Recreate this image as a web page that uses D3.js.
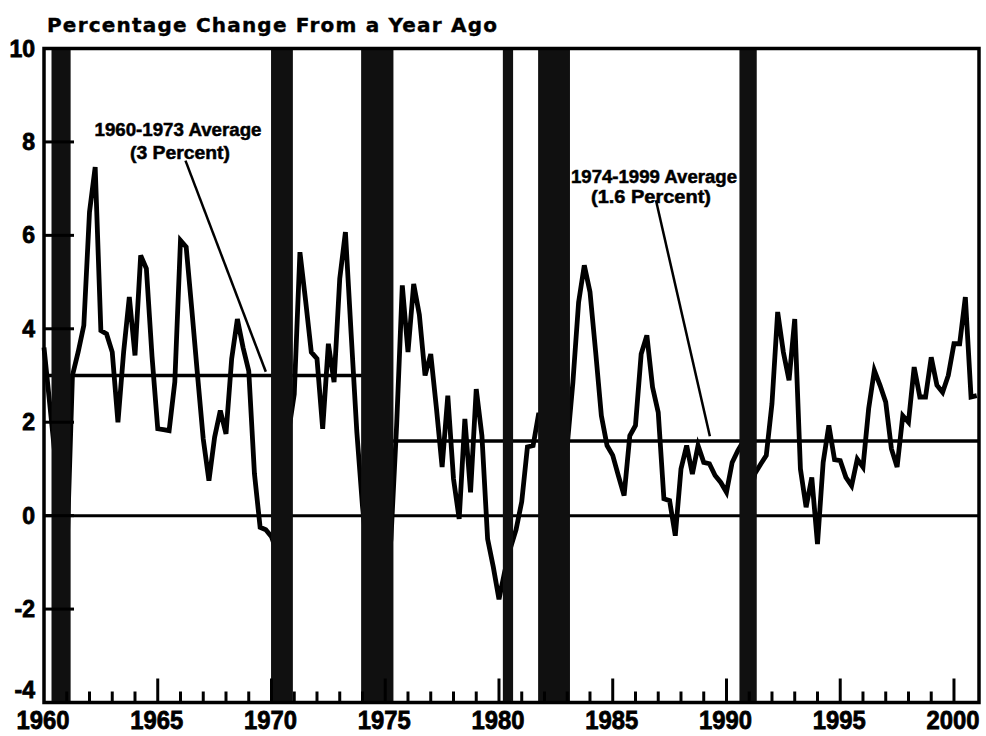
<!DOCTYPE html>
<html>
<head>
<meta charset="utf-8">
<script src="https://cdn.jsdelivr.net/npm/d3@7"></script>
<style>
body { margin: 0; background: #fff; }
text { font-family: "Liberation Sans", Arial, sans-serif; font-weight: bold; fill: #000; }
</style>
</head>
<body>
<svg width="986" height="736"></svg>
<script>
// quarterly, first value = 1960 Q1
var startYear = 1960;
var values = [
  3.6, 2.4, 1.2, 0.0, -0.9, 3.0, 3.5, 4.07, 6.5, 7.46,
  3.96, 3.89, 3.5, 2.0, 3.5, 4.68, 3.43, 5.57, 5.29, 3.4,
  1.86, 1.84, 1.82, 2.86, 5.89, 5.75, 4.4, 3.0, 1.64, 0.75,
  1.68, 2.25, 1.75, 3.36, 4.21, 3.6, 3.1, 0.9, -0.25, -0.3,
  -0.45, -0.8, 0.5, 1.8, 2.6, 5.64, 4.6, 3.5, 3.36, 1.86,
  3.68, 2.86, 5.07, 6.07, 3.9, 1.8, 0.2, -1.0, -1.8, -2.0,
  -1.6, -0.5, 1.93, 4.93, 3.5, 4.96, 4.3, 3.0, 3.46, 2.3,
  1.04, 2.57, 0.79, -0.07, 2.07, 0.5, 2.71, 1.71, -0.5, -1.1,
  -1.79, -1.2, -0.7, -0.3, 0.3, 1.47, 1.5, 2.2, 1.5, 0.6,
  -0.3, 0.2, 1.5, 2.86, 4.57, 5.36, 4.79, 3.5, 2.14, 1.5,
  1.29, 0.85, 0.43, 1.71, 1.93, 3.46, 3.86, 2.75, 2.21, 0.36,
  0.32, -0.43, 1.0, 1.5, 0.89, 1.5, 1.14, 1.11, 0.86, 0.71,
  0.5, 1.14, 1.39, 1.6, 0.3, 0.9, 1.1, 1.29, 2.4, 4.36,
  3.5, 2.9, 4.21, 1.0, 0.18, 0.82, -0.61, 1.14, 1.93, 1.2,
  1.18, 0.82, 0.64, 1.21, 1.04, 2.29, 3.11, 2.79, 2.43, 1.43,
  1.04, 2.14, 2.0, 3.18, 2.54, 2.54, 3.39, 2.79, 2.64, 3.0,
  3.68, 3.68, 4.68, 2.54, 2.57
];

// recession bands (start, end) in decimal years
var recessionStart = [1960.33, 1969.98, 1973.94, 1980.17, 1981.72, 1990.57];
var recessionEnd   = [1961.17, 1970.94, 1975.36, 1980.62, 1983.12, 1991.33];

var avgFrom = [1960, 1974];
var avgTo = [1974, 2001.1];
var avgValues = [3, 1.6];

var yTicks = [10, 8, 6, 4, 2, 0, -2, -4];
var xLabels = [1960, 1965, 1970, 1975, 1980, 1985, 1990, 1995, 2000];

var title = "Percentage Change From a Year Ago";
var note1 = ["1960-1973 Average", "(3 Percent)"];
var note2 = ["1974-1999 Average", "(1.6 Percent)"];

var svg = d3.select("svg");

var x = d3.scaleLinear().domain([1960, 2001.1]).range([44, 979]);
var y = d3.scaleLinear().domain([-4, 10]).range([702.5, 48.5]);

var data = values.map(function(v, i) { return { t: startYear + i / 4, v: v }; });

// average lines + zero line
svg.selectAll(".avg")
    .data(avgValues)
  .enter().append("line")
    .attr("x1", function(d, i) { return x(avgFrom[i]); })
    .attr("x2", function(d, i) { return x(avgTo[i]); })
    .attr("y1", function(d) { return y(d); })
    .attr("y2", function(d) { return y(d); })
    .attr("stroke", "#000")
    .attr("stroke-width", 3.5);

svg.append("line")
    .attr("x1", x(1960)).attr("x2", x(2001.1))
    .attr("y1", y(0)).attr("y2", y(0))
    .attr("stroke", "#000").attr("stroke-width", 3);

var line = d3.line()
    .x(function(d) { return x(d.t); })
    .y(function(d) { return y(d.v); });

svg.append("path")
    .datum(data)
    .attr("d", line)
    .attr("fill", "none")
    .attr("stroke", "#000")
    .attr("stroke-width", 4.8)
    .attr("stroke-linejoin", "miter");

// recession shading
svg.selectAll(".band")
    .data(recessionStart)
  .enter().append("rect")
    .attr("x", function(d) { return x(d); })
    .attr("width", function(d, i) { return x(recessionEnd[i]) - x(d); })
    .attr("y", y(10))
    .attr("height", y(-4) - y(10))
    .attr("fill", "#101010");

// y ticks pointing inward
svg.selectAll(".ytick")
    .data(yTicks)
  .enter().append("line")
    .attr("x1", x(1960)).attr("x2", x(1960) + 30)
    .attr("y1", function(d) { return y(d); })
    .attr("y2", function(d) { return y(d); })
    .attr("stroke", "#000").attr("stroke-width", 3);

svg.selectAll(".ylab")
    .data(yTicks)
  .enter().append("text")
    .attr("x", 35)
    .attr("y", function(d) { return d === -4 ? y(d) - 5 : y(d) + 8; })
    .attr("text-anchor", "end")
    .style("font-size", "23px")
    .attr("stroke", "#000").attr("stroke-width", 0.8)
    .text(function(d) { return d; });

// x ticks: every year, longer every 5 years
var years = d3.range(1961, 2001);
svg.selectAll(".xtick")
    .data(years)
  .enter().append("line")
    .attr("x1", function(d) { return x(d); })
    .attr("x2", function(d) { return x(d); })
    .attr("y1", y(-4))
    .attr("y2", function(d) { return y(-4) - (d % 5 === 0 ? 24 : 11); })
    .attr("stroke", "#000").attr("stroke-width", 3);

svg.selectAll(".xlab")
    .data(xLabels)
  .enter().append("text")
    .attr("x", function(d) { return x(d) - 1; })
    .attr("y", 729)
    .attr("text-anchor", "middle")
    .attr("textLength", 53)
    .attr("lengthAdjust", "spacingAndGlyphs")
    .style("font-size", "26px")
    .attr("stroke", "#000").attr("stroke-width", 0.8)
    .text(function(d) { return d; });

// frame
svg.append("rect")
    .attr("x", x(1960)).attr("y", y(10))
    .attr("width", x(2001.1) - x(1960))
    .attr("height", y(-4) - y(10))
    .attr("fill", "none")
    .attr("stroke", "#000").attr("stroke-width", 3.5);

// title
svg.append("text")
    .attr("x", 47).attr("y", 32)
    .attr("textLength", 450)
    .attr("lengthAdjust", "spacing")
    .style("font-family", "'DejaVu Sans', sans-serif")
    .style("font-size", "20px")
    .attr("stroke", "#000").attr("stroke-width", 0.4)
    .text(title);

// annotations
function note(lines, cx, base, widths) {
  lines.forEach(function(s, i) {
    svg.append("text")
        .attr("x", cx[i]).attr("y", base[i])
        .attr("text-anchor", "middle")
        .attr("textLength", widths[i])
        .attr("lengthAdjust", "spacingAndGlyphs")
        .style("font-size", "18px")
        .attr("stroke", "#000").attr("stroke-width", 0.5)
        .text(s);
  });
}
note(note1, [178, 180], [136, 159], [167, 100]);
note(note2, [654, 651], [183, 203], [166, 120]);

svg.append("line")
    .attr("x1", x(1966.22)).attr("y1", y(7.6))
    .attr("x2", x(1969.75)).attr("y2", y(3.08))
    .attr("stroke", "#000").attr("stroke-width", 2.5);

svg.append("line")
    .attr("x1", x(1986.9)).attr("y1", y(6.75))
    .attr("x2", x(1989.27)).attr("y2", y(1.7))
    .attr("stroke", "#000").attr("stroke-width", 2.5);
</script>
</body>
</html>
